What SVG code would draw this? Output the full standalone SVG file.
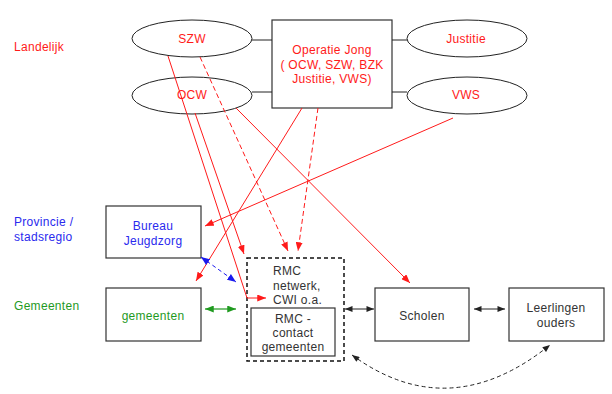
<svg xmlns="http://www.w3.org/2000/svg" width="612" height="394" viewBox="0 0 612 394">
<style>
text{font-family:"Liberation Sans",Arial,sans-serif;font-size:12px;letter-spacing:0.3px}
.c{text-anchor:middle}
.r{fill:#ff1a1a}.b{fill:#2a2aee}.g{fill:#1f9a1f}.k{fill:#333}
.box{fill:#fff;stroke:#333;stroke-width:1.2}
.ell{fill:#fff;stroke:#222;stroke-width:1}
.ln{fill:none;stroke:#222;stroke-width:1}
.red{fill:none;stroke:#ff1a1a;stroke-width:1}
.redd{fill:none;stroke:#ff1a1a;stroke-width:1;stroke-dasharray:5,3}
</style>
<defs>
<marker id="ar" viewBox="0 0 10 8" refX="10" refY="4" markerWidth="9" markerHeight="7" orient="auto-start-reverse" markerUnits="userSpaceOnUse"><path d="M0,0 L10,4 L0,8 z" fill="#ff1a1a"/></marker>
<marker id="ak" viewBox="0 0 10 8" refX="10" refY="4" markerWidth="8" markerHeight="6" orient="auto-start-reverse" markerUnits="userSpaceOnUse"><path d="M0,0 L10,4 L0,8 z" fill="#222"/></marker>
<marker id="ag" viewBox="0 0 10 8" refX="10" refY="4" markerWidth="9" markerHeight="7" orient="auto-start-reverse" markerUnits="userSpaceOnUse"><path d="M0,0 L10,4 L0,8 z" fill="#1f9a1f"/></marker>
<marker id="ab" viewBox="0 0 10 8" refX="10" refY="4" markerWidth="9" markerHeight="7" orient="auto-start-reverse" markerUnits="userSpaceOnUse"><path d="M0,0 L10,4 L0,8 z" fill="#1a1aee"/></marker>
</defs>
<rect width="612" height="394" fill="#fff"/>
<g id="labels">
<text x="14" y="51" class="r">Landelijk</text>
<text x="14" y="226" class="b">Provincie /</text>
<text x="14" y="241" class="b">stadsregio</text>
<text x="14" y="310" class="g">Gemeenten</text>
</g>
<g id="szw"><ellipse cx="192" cy="38.5" rx="60" ry="18.5" class="ell"/><text x="192" y="43" class="c r">SZW</text></g>
<g id="ocw"><ellipse cx="192" cy="95.5" rx="60" ry="18.5" class="ell"/><text x="192" y="99" class="c r">OCW</text></g>
<g id="operatie"><rect x="272" y="20" width="120" height="88" class="box"/>
<text x="332" y="54" class="c r">Operatie Jong</text>
<text x="332" y="69" class="c r">( OCW, SZW, BZK</text>
<text x="332" y="83" class="c r">Justitie, VWS)</text></g>
<g id="justitie"><ellipse cx="467" cy="38.5" rx="60" ry="18.5" class="ell"/><text x="466" y="43" class="c r">Justitie</text></g>
<g id="vws"><ellipse cx="467" cy="95.5" rx="60" ry="18.5" class="ell"/><text x="466" y="99" class="c r">VWS</text></g>
<g id="bureau"><rect x="106" y="206" width="95" height="52" class="box"/>
<text x="153" y="230" class="c b">Bureau</text><text x="153" y="245" class="c b">Jeugdzorg</text></g>
<g id="gemeenten"><rect x="106" y="288" width="95" height="53" class="box"/>
<text x="153" y="320" class="c g">gemeenten</text></g>
<g id="rmc"><rect x="247" y="258" width="97" height="103" fill="#fff" stroke="#111" stroke-width="1.5" stroke-dasharray="4,3"/>
<text x="273" y="275" class="k">RMC</text>
<text x="273" y="290" class="k">netwerk,</text>
<text x="273" y="304" class="k">CWI o.a.</text>
<rect x="251" y="308" width="84" height="48" class="box"/>
<text x="293" y="323" class="c k">RMC -</text>
<text x="293" y="337" class="c k">contact</text>
<text x="293" y="351" class="c k">gemeenten</text></g>
<g id="scholen"><rect x="375" y="288" width="94" height="53" class="box"/>
<text x="422" y="320" class="c k">Scholen</text></g>
<g id="leerlingen"><rect x="509" y="288" width="95" height="53" class="box"/>
<text x="556" y="312" class="c k">Leerlingen</text><text x="556" y="327" class="c k">ouders</text></g>
<g id="connectors">
<line x1="252" y1="40" x2="272" y2="40" class="ln"/>
<line x1="252" y1="92" x2="272" y2="92" class="ln"/>
<line x1="392" y1="40" x2="407" y2="40" class="ln"/>
<line x1="392" y1="92" x2="407" y2="92" class="ln"/>
<polyline points="168,56 247,298 266,298" class="red" marker-end="url(#ar)"/>
<line x1="195" y1="113" x2="244" y2="254" class="red" marker-end="url(#ar)"/>
<path d="M200,57 L288,251" class="redd" marker-end="url(#ar)"/>
<path d="M318,108 L298,251" class="redd" marker-end="url(#ar)"/>
<line x1="302" y1="108" x2="196" y2="281" class="red" marker-end="url(#ar)"/>
<line x1="236" y1="108" x2="410" y2="283" class="red" marker-end="url(#ar)"/>
<line x1="453" y1="118" x2="205" y2="226" class="red" marker-end="url(#ar)"/>
<line x1="201" y1="257" x2="236" y2="282" fill="none" stroke="#1a1aee" stroke-width="1" stroke-dasharray="4,3" marker-start="url(#ab)" marker-end="url(#ab)"/>
<line x1="205" y1="309" x2="236" y2="309" stroke="#1f9a1f" stroke-width="1.2" marker-start="url(#ag)" marker-end="url(#ag)"/>
<line x1="345" y1="309" x2="374" y2="309" class="ln" marker-start="url(#ak)" marker-end="url(#ak)"/>
<line x1="474" y1="309" x2="505" y2="309" class="ln" marker-start="url(#ak)" marker-end="url(#ak)"/>
<path d="M352,355 Q449,426 550,345" class="ln" stroke-dasharray="4,3" marker-start="url(#ak)" marker-end="url(#ak)"/>
</g>
</svg>
